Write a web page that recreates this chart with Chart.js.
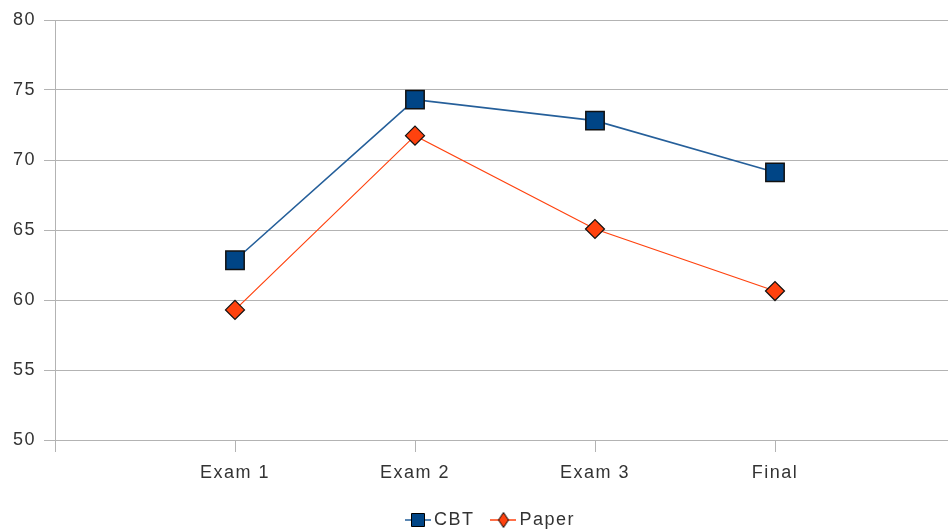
<!DOCTYPE html>
<html>
<head>
<meta charset="utf-8">
<script src="https://cdn.jsdelivr.net/npm/chart.js@4/dist/chart.umd.min.js"></script>
<style>
  html, body { margin: 0; padding: 0; background: #fff; }
  #wrap { width: 948px; height: 531px; position: relative; }
</style>
</head>
<body>
<div id="wrap"><canvas id="myChart"></canvas></div>
<script>
/* global Chart */
const categories = ['Exam 1', 'Exam 2', 'Exam 3', 'Final']
const cbtScores = [62.84, 74.31, 72.81, 69.12]
const paperScores = [59.29, 71.74, 65.07, 60.64]
const yTicks = [50, 55, 60, 65, 70, 75, 80]

const FONT = '"Liberation Sans", Arial, sans-serif'
const BLUE = '#004586'
const BLUE_LINE = '#255f9a'
const ORANGE = '#ff420e'
const GRID = '#b3b3b3'

// legend icon: short line with the marker on top, like the office legend
function legendIcon (lineColor, fill, style) {
  const c = document.createElement('canvas')
  c.width = 26
  c.height = 18
  const ctx = c.getContext('2d')
  ctx.strokeStyle = lineColor
  ctx.lineWidth = 1.5
  ctx.beginPath()
  ctx.moveTo(0, 9)
  ctx.lineTo(26, 9)
  ctx.stroke()
  ctx.fillStyle = fill
  ctx.strokeStyle = '#000'
  ctx.lineWidth = 1
  ctx.beginPath()
  if (style === 'rect') {
    ctx.rect(6.5, 2.5, 13, 13)
  } else {
    ctx.moveTo(13, 1.5)
    ctx.lineTo(18, 9)
    ctx.lineTo(13, 16.5)
    ctx.lineTo(8, 9)
    ctx.closePath()
  }
  ctx.fill()
  ctx.stroke()
  return c
}

const toPoints = arr => arr.map((v, i) => ({ x: i + 1, y: v }))

Chart.defaults.font.family = FONT
Chart.defaults.font.size = 18
Chart.defaults.color = '#333'

// the office renderer spreads the glyphs a little
const spacing = {
  id: 'spacing',
  beforeLayout: chart => { chart.ctx.letterSpacing = '1.5px' },
  beforeDraw: chart => { chart.ctx.letterSpacing = '1.5px' },
  afterLayout: chart => {
    const lg = chart.legend
    lg.left += 19
    lg.right += 19
    lg.top += 8
    lg.bottom += 8
  }
}

const data = {
  datasets: [{
    label: 'CBT',
    data: toPoints(cbtScores),
    borderColor: BLUE_LINE,
    borderWidth: 1.6,
    pointStyle: 'rect',
    pointRadius: 13,
    pointHoverRadius: 13,
    pointBackgroundColor: BLUE,
    pointBorderColor: '#111',
    pointBorderWidth: 1.5,
    icon: legendIcon(BLUE_LINE, BLUE, 'rect')
  }, {
    label: 'Paper',
    data: toPoints(paperScores),
    borderColor: ORANGE,
    borderWidth: 1.2,
    pointStyle: 'rectRot',
    pointRadius: 9.5,
    pointHoverRadius: 9.5,
    pointBackgroundColor: ORANGE,
    pointBorderColor: '#111',
    pointBorderWidth: 1.2,
    icon: legendIcon(ORANGE, ORANGE, 'diamond')
  }]
}

const config = {
  type: 'line',
  data,
  plugins: [spacing],
  options: {
    responsive: true,
    maintainAspectRatio: false,
    animation: false,
    layout: { autoPadding: false, padding: { top: 20, right: 0, left: 0, bottom: 0 } },
    plugins: {
      tooltip: { enabled: false },
      legend: {
        position: 'bottom',
        labels: {
          usePointStyle: true,
          pointStyleWidth: 14,
          padding: 22,
          generateLabels: chart => chart.data.datasets.map((ds, i) => ({
            text: ds.label,
            pointStyle: ds.icon,
            datasetIndex: i,
            fontColor: '#333',
            lineWidth: 0
          }))
        }
      }
    },
    scales: {
      x: {
        type: 'linear',
        min: 0,
        max: 893 / 180,
        afterBuildTicks: scale => {
          scale.ticks = [0, 1, 2, 3, 4].map(v => ({ value: v }))
        },
        afterFit: scale => {
          scale.height = 41
          scale.paddingLeft = 0
          scale.paddingRight = 0
        },
        ticks: {
          padding: 10,
          callback: v => categories[v - 1] || ''
        },
        grid: { drawOnChartArea: false, drawTicks: true, tickLength: 12, color: GRID },
        border: { display: true, color: GRID }
      },
      y: {
        min: 50,
        max: 80,
        afterBuildTicks: scale => {
          scale.ticks = yTicks.map(v => ({ value: v }))
        },
        afterFit: scale => { scale.width = 55 },
        ticks: { padding: 8 },
        grid: { color: GRID, tickLength: 11 },
        border: { display: true, color: GRID }
      }
    }
  }
}

const myChart = new Chart(document.getElementById('myChart'), config)
</script>
</body>
</html>
